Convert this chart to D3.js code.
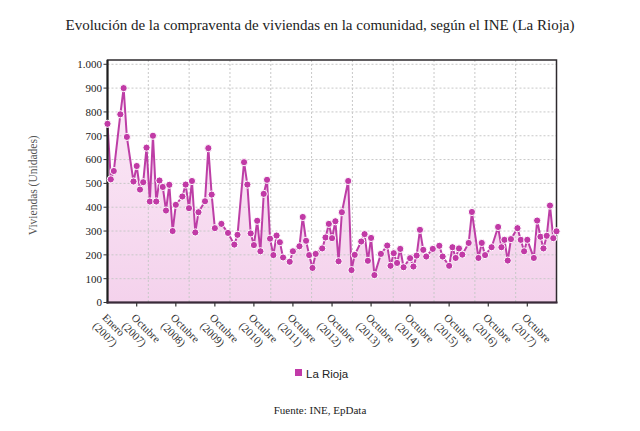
<!DOCTYPE html>
<html><head><meta charset="utf-8">
<script src="https://cdn.jsdelivr.net/npm/d3@7"></script>
<style>body{margin:0;background:#fff}svg{display:block}</style>
</head><body>
<script>
// Months (YYYY-MM) with a visible marker and their values
const dates = ["2007-01","2007-02","2007-03","2007-05","2007-06","2007-07","2007-09","2007-10","2007-11","2007-12",
"2008-01","2008-02","2008-03","2008-04","2008-05","2008-06","2008-07","2008-08","2008-09","2008-10","2008-12",
"2009-01","2009-02","2009-03","2009-04","2009-05","2009-07","2009-08","2009-09","2009-10","2009-12",
"2010-02","2010-04","2010-05","2010-07","2010-08","2010-09","2010-10","2010-11","2010-12",
"2011-01","2011-02","2011-03","2011-04","2011-05","2011-06","2011-07","2011-09","2011-10","2011-12",
"2012-01","2012-02","2012-03","2012-04","2012-05","2012-07","2012-08","2012-09","2012-10","2012-11","2012-12",
"2013-01","2013-03","2013-04","2013-05","2013-07","2013-08","2013-09","2013-10","2013-11","2014-01",
"2014-03","2014-04","2014-05","2014-06","2014-07","2014-08","2014-10","2014-11","2014-12",
"2015-01","2015-02","2015-03","2015-05","2015-07","2015-08","2015-10","2015-11","2015-12",
"2016-01","2016-02","2016-04","2016-05","2016-07","2016-08","2016-09","2016-11",
"2017-01","2017-02","2017-03","2017-04","2017-05","2017-07","2017-08","2017-09","2017-10","2017-12",
"2018-01","2018-02","2018-03","2018-04","2018-05","2018-06","2018-07"];
const values = [750,517,552,790,900,695,508,573,474,505,
650,424,700,424,512,485,386,494,300,410,445,
495,396,510,294,379,425,648,453,312,330,
292,243,284,589,495,290,241,343,215,
456,515,268,199,281,253,189,171,215,236,
359,259,199,145,204,227,273,330,270,341,173,
379,510,136,200,256,287,175,271,115,204,
239,154,207,166,225,148,186,151,197,
305,221,193,225,238,193,154,232,187,
227,201,250,380,187,250,199,232,
317,232,263,176,266,312,263,215,263,187,
344,276,227,280,407,270,299];
const tickDates = ["2007-01","2007-10","2008-10","2009-10","2010-10","2011-10","2012-10","2013-10","2014-10","2015-10","2016-10","2017-10"];
const tickMonths = ["Enero","Octubre","Octubre","Octubre","Octubre","Octubre","Octubre","Octubre","Octubre","Octubre","Octubre","Octubre"];
const tickYears = ["(2007)","(2007)","(2008)","(2009)","(2010)","(2011)","(2012)","(2013)","(2014)","(2015)","(2016)","(2017)"];
const yTicks = [0,100,200,300,400,500,600,700,800,900,1000];
const seriesName = "La Rioja";

const W = 640, H = 431;
const M = {left:107.5, right:556.5, top:60, bottom:302.5};
const parse = d3.timeParse("%Y-%m");
const fmt = d3.formatLocale({decimal:",", thousands:".", grouping:[3], currency:["","€"]}).format(",d");

const svg = d3.select("body").append("svg").attr("width", W).attr("height", H);
svg.append("rect").attr("width", W).attr("height", H).attr("fill", "#fff");

const x = d3.scaleTime().domain([parse("2007-01"), parse("2018-07")]).range([M.left, M.right]);
const y = d3.scaleLinear().domain([0, 1018]).range([M.bottom, M.top]);

const defs = svg.append("defs");
const grad = defs.append("linearGradient").attr("id","fillg").attr("x1",0).attr("y1",0).attr("x2",0).attr("y2",1);
grad.append("stop").attr("offset","0%").attr("stop-color","#fbeaf7");
grad.append("stop").attr("offset","100%").attr("stop-color","#f4d2ec");

const data = dates.map((d,i)=>({date: parse(d), value: values[i]}));

// area
svg.append("path").datum(data)
  .attr("fill","url(#fillg)")
  .attr("d", d3.area().x(d=>x(d.date)).y0(y(0)).y1(d=>y(d.value)));

// grid
const grid = svg.append("g").attr("stroke","#c8c8c8").attr("stroke-dasharray","2,2").attr("stroke-width",1);
yTicks.forEach(t=>{
  grid.append("line").attr("x1",M.left).attr("x2",M.right).attr("y1",y(t)).attr("y2",y(t));
});
const xg = d3.scaleLinear().domain([0,11]).range([M.left, M.right]);
d3.range(1,11).forEach(k=>{
  grid.append("line").attr("x1",xg(k)).attr("x2",xg(k)).attr("y1",M.top).attr("y2",M.bottom);
});

// line
svg.append("path").datum(data)
  .attr("fill","none").attr("stroke","#bd3ea6").attr("stroke-width",2).attr("stroke-linejoin","round")
  .attr("d", d3.line().x(d=>x(d.date)).y(d=>y(d.value)));

// frame
svg.append("rect").attr("x",M.left).attr("y",M.top).attr("width",M.right-M.left).attr("height",M.bottom-M.top)
  .attr("fill","none").attr("stroke","#2e2a2e").attr("stroke-width",1.5);
svg.append("line").attr("x1",M.left).attr("x2",M.left).attr("y1",M.top).attr("y2",M.bottom+1).attr("stroke","#1e1e1e").attr("stroke-width",2);
svg.append("line").attr("x1",M.left-1).attr("x2",M.right+1).attr("y1",M.bottom).attr("y2",M.bottom).attr("stroke","#3a2a3a").attr("stroke-width",2);

// markers (on top of frame)
svg.append("g").selectAll("circle").data(data).join("circle")
  .attr("cx", d=>x(d.date)).attr("cy", d=>y(d.value)).attr("r", 3.6)
  .attr("fill","#c13aa6").attr("stroke","#fff").attr("stroke-width",1);

// y axis
const ya = svg.append("g").attr("font-family","'Liberation Serif', 'Times New Roman', serif").attr("font-size",11).attr("fill","#222");
yTicks.forEach(t=>{
  ya.append("line").attr("x1",M.left-4).attr("x2",M.left).attr("y1",y(t)).attr("y2",y(t)).attr("stroke","#333").attr("stroke-width",1);
  ya.append("text").attr("x",M.left-5.5).attr("y",y(t)).attr("dy","0.35em").attr("text-anchor","end").text(fmt(t));
});

// x axis ticks + labels
const xa = svg.append("g").attr("font-family","'Liberation Serif', 'Times New Roman', serif").attr("font-size",11).attr("fill","#333");
tickDates.forEach((d,i)=>{
  const tx = x(parse(d));
  if (i>0) xa.append("line").attr("x1",tx).attr("x2",tx).attr("y1",M.bottom).attr("y2",M.bottom+4).attr("stroke","#333").attr("stroke-width",1.2);
  const t = xa.append("text").attr("transform",`translate(${tx},${M.bottom+10}) rotate(45)`);
  t.append("tspan").attr("x",0).attr("dy","0.75em").text(tickMonths[i]);
  t.append("tspan").attr("x",-1).attr("dy","1.15em").text(tickYears[i]);
});

// title
svg.append("text").attr("x",320).attr("y",30).attr("text-anchor","middle")
  .attr("font-family","'Liberation Serif', 'Times New Roman', serif").attr("font-size",15).attr("fill","#222")
  .text("Evolución de la compraventa de viviendas en la comunidad, según el INE (La Rioja)");

// y title
svg.append("text").attr("transform",`translate(37,${(M.top+M.bottom)/2+4}) rotate(-90)`).attr("text-anchor","middle")
  .attr("font-family","'Liberation Serif', 'Times New Roman', serif").attr("font-size",11.5).attr("fill","#555")
  .text("Viviendas (Unidades)");

// legend
svg.append("rect").attr("x",295).attr("y",369).attr("width",7).attr("height",7).attr("fill","#c13aa8");
svg.append("text").attr("x",306).attr("y",377.5).attr("font-family","'Liberation Sans', Arial, sans-serif")
  .attr("font-size",11.5).attr("fill","#222").text(seriesName);

// source
svg.append("text").attr("x",320).attr("y",414).attr("text-anchor","middle")
  .attr("font-family","'Liberation Serif', 'Times New Roman', serif").attr("font-size",11).attr("fill","#222")
  .text("Fuente: INE, EpData");
</script>
</body></html>
